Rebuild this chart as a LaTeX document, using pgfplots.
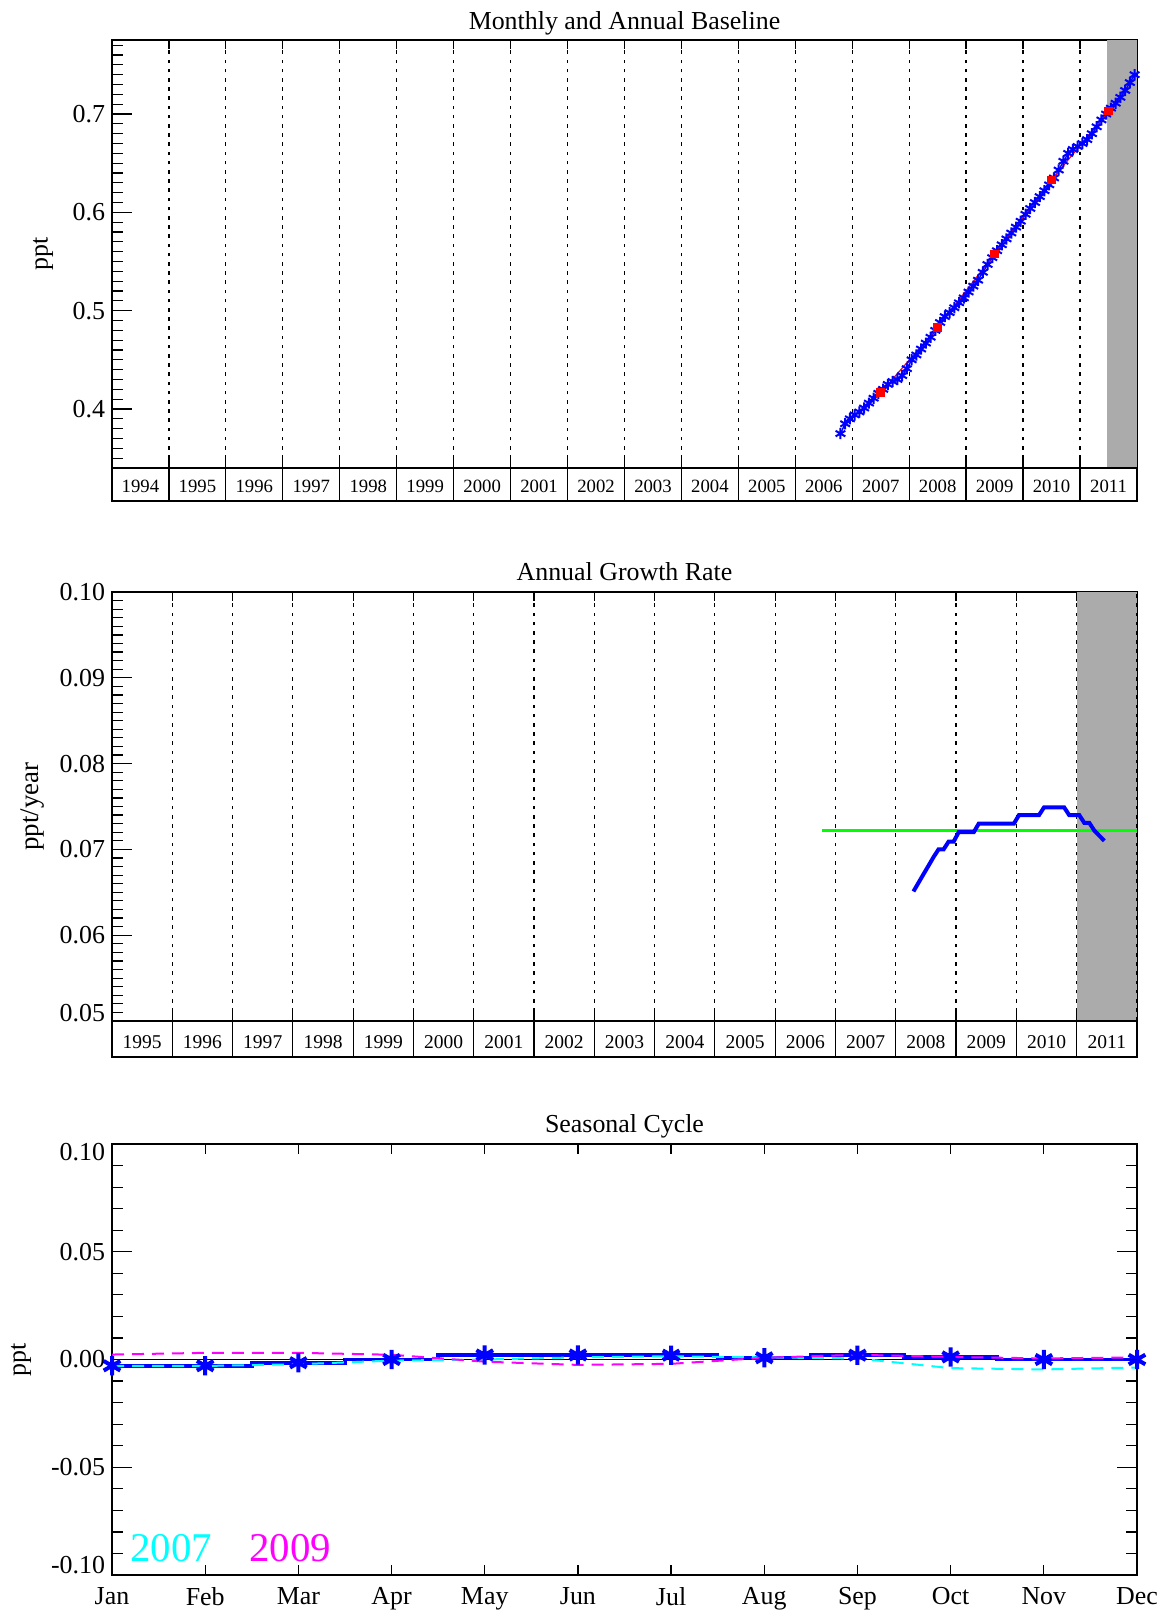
\documentclass[border=0pt]{standalone}
\usepackage{fontspec}
\setmainfont{Liberation Serif}
\usepackage{pgfplots}
\pgfplotsset{compat=1.18}
\definecolor{shade}{RGB}{171,171,171}
\definecolor{pblue}{RGB}{0,0,255}
\definecolor{pgreen}{RGB}{0,255,0}
\definecolor{pcyan}{RGB}{0,255,255}
\definecolor{pmag}{RGB}{255,0,255}
\definecolor{pred}{RGB}{255,0,0}
\newcommand\fs[1]{\fontsize{#1}{#1}\selectfont}
\newcommand\shiftlab[2]{\raisebox{#1}[\height][\depth]{#2}}
\tikzset{gridline/.style={black, line width=0.6bp, dash pattern=on 1.8bp off 2.8bp}}
\pgfplotsset{
  every axis title/.style={at={(0.5,1)}, anchor=base, inner sep=0pt, font=\fs{13}},
  base/.style={scale only axis, width=512.5bp, anchor=north west,
    axis line style={line width=0.75bp, black},
    tick style={black, line width=0.6bp},
    tick label style={font=\fs{13}}},
  yover/.style={base, axis line style={draw=none}, xtick=\empty,
    ylabel style={anchor=center, font=\fs{13}, inner sep=0pt}},
  labrow/.style={scale only axis, width=512.5bp, anchor=north west,
    ymin=0, ymax=1, xticklabels={}, ytick=\empty, major tick length=0pt,
    xmajorgrids, major grid style={black, line width=0.6bp},
    axis line style={line width=0.75bp, black}}
}
\begin{document}
\begin{tikzpicture}
\useasboundingbox (0,0) rectangle (583.5bp,-805.5bp);

% ---------------- Panel 1 ----------------
\begin{axis}[base, at={(56bp,-20bp)}, height=214bp,
  xmin=1994, xmax=2012, ymin=0.34, ymax=0.7753,
  xtick={1994,...,2012}, xticklabels={}, minor x tick num=7,
  major tick length=4.7bp, minor tick length=2.6bp,
  ytick=\empty, xmajorgrids, major grid style={gridline},
  title={Monthly and Annual Baseline}, title style={yshift=5.4bp}]
\addplot[fill=shade, draw=none] coordinates {(2011.48,0.34) (2012,0.34) (2012,0.7753) (2011.48,0.7753)} -- cycle;
\addplot[pblue, line width=0.7bp, mark=asterisk, mark size=2.8bp, mark options={line width=1bp}] table {
x y
2006.792 0.375
2006.875 0.385
2006.958 0.390
2007.042 0.394
2007.125 0.397
2007.208 0.401
2007.292 0.406
2007.375 0.411
2007.458 0.416
2007.542 0.420
2007.625 0.425
2007.708 0.428
2007.792 0.430
2007.875 0.434
2007.958 0.441
2008.042 0.450
2008.125 0.455
2008.208 0.461
2008.292 0.467
2008.375 0.473
2008.458 0.480
2008.542 0.488
2008.625 0.494
2008.708 0.498
2008.792 0.503
2008.875 0.508
2008.958 0.513
2009.042 0.519
2009.125 0.525
2009.208 0.531
2009.292 0.539
2009.375 0.547
2009.458 0.554
2009.542 0.561
2009.625 0.567
2009.708 0.573
2009.792 0.579
2009.875 0.585
2009.958 0.591
2010.042 0.598
2010.125 0.604
2010.208 0.610
2010.292 0.616
2010.375 0.622
2010.458 0.628
2010.542 0.635
2010.625 0.643
2010.708 0.652
2010.792 0.660
2010.875 0.664
2010.958 0.667
2011.042 0.670
2011.125 0.674
2011.208 0.680
2011.292 0.687
2011.375 0.694
2011.458 0.700
2011.542 0.706
2011.625 0.711
2011.708 0.717
2011.792 0.724
2011.875 0.732
2011.958 0.740
};
\addplot[pred, line width=0.6bp, mark=square*, mark size=1.9bp] coordinates {
(2007.5,0.4166) (2008.5,0.483) (2009.5,0.5577) (2010.5,0.633) (2011.5,0.703)};
\end{axis}
\begin{axis}[yover, at={(56bp,-20bp)}, height=214bp,
  xmin=1994, xmax=2012, ymin=0.34, ymax=0.7753,
  ytick={0.4,0.5,0.6,0.7}, yticklabels={0.4,0.5,0.6,0.7},
  minor ytick={0.35,0.36,...,0.775}, ytick pos=left,
  major tick length=10bp, minor tick length=5.5bp,
  ylabel={ppt}, ylabel style={at={(axis description cs:-0.0673,0.5)}}]
\end{axis}
\begin{axis}[labrow, at={(56bp,-234bp)}, height=16.5bp,
  xmin=1994, xmax=2012, xtick={1995,...,2011}]
\pgfplotsinvokeforeach{1994,...,2011}{\node[font=\fs{9.4}, inner sep=0pt] at (axis cs:#1.5,0.43) {#1};}
\end{axis}

% ---------------- Panel 2 ----------------
\begin{axis}[base, at={(56bp,-296bp)}, height=214.5bp,
  xmin=1995, xmax=2012, ymin=0.05, ymax=0.10,
  xtick={1995,...,2012}, xticklabels={}, minor x tick num=7,
  major tick length=4.7bp, minor tick length=2.6bp,
  ytick=\empty, xmajorgrids, major grid style={gridline},
  title={Annual Growth Rate}, title style={yshift=5.7bp}]
\addplot[fill=shade, draw=none] coordinates {(2011,0.05) (2012,0.05) (2012,0.10) (2011,0.10)} -- cycle;
\addplot[gridline] coordinates {(2011,0.05) (2011,0.10)};
\addplot[gridline] coordinates {(2012,0.05) (2012,0.10)};
\addplot[pgreen, line width=1.6bp] coordinates {(2006.78,0.0722) (2012,0.0722)};
\addplot[pblue, line width=2bp] table {
x y
2008.292 0.0651
2008.375 0.0661
2008.458 0.0671
2008.542 0.0681
2008.625 0.0691
2008.708 0.0700
2008.792 0.0700
2008.875 0.0709
2008.958 0.0709
2009.042 0.0720
2009.125 0.0720
2009.208 0.0720
2009.292 0.0720
2009.375 0.0730
2009.458 0.0730
2009.542 0.0730
2009.625 0.0730
2009.708 0.0730
2009.792 0.0730
2009.875 0.0730
2009.958 0.0730
2010.042 0.0740
2010.125 0.0740
2010.208 0.0740
2010.292 0.0740
2010.375 0.0740
2010.458 0.0749
2010.542 0.0749
2010.625 0.0749
2010.708 0.0749
2010.792 0.0749
2010.875 0.0740
2010.958 0.0740
2011.042 0.0740
2011.125 0.0731
2011.208 0.0731
2011.292 0.0722
2011.375 0.0716
2011.458 0.0710
};
\end{axis}
\begin{axis}[yover, at={(56bp,-296bp)}, height=214.5bp,
  xmin=1995, xmax=2012, ymin=0.05, ymax=0.10,
  ytick={0.05,0.06,0.07,0.08,0.09,0.10},
  yticklabels={\shiftlab{4bp}{0.05},0.06,0.07,0.08,0.09,0.10},
  minor ytick={0.051,0.052,...,0.0995}, ytick pos=left,
  major tick length=10bp, minor tick length=5.3bp,
  ylabel={ppt/year}, ylabel style={at={(axis description cs:-0.078,0.5)}, font=\fs{13.5}}]
\end{axis}
\begin{axis}[labrow, at={(56bp,-510.5bp)}, height=18bp,
  xmin=1995, xmax=2012, xtick={1996,...,2011}]
\pgfplotsinvokeforeach{1995,...,2011}{\node[font=\fs{9.8}, inner sep=0pt] at (axis cs:#1.5,0.42) {#1};}
\end{axis}

% ---------------- Panel 3 ----------------
\begin{axis}[base, at={(56bp,-572bp)}, height=215.5bp,
  xmin=0, xmax=11, ymin=-0.1, ymax=0.1,
  xtick={0,...,11}, xticklabels={Jan,Feb,Mar,Apr,May,Jun,Jul,Aug,Sep,Oct,Nov,Dec},
  xticklabel style={yshift=-2.5bp},
  major tick length=5bp, ytick=\empty,
  title={Seasonal Cycle}, title style={yshift=5.7bp}]
\addplot[pblue, line width=1.8bp, const plot mark mid, mark=asterisk, mark size=4.8bp, mark options={solid, line width=2bp}] table {
x y
0 -0.0029
1 -0.0029
2 -0.0015
3 0.0000
4 0.0021
5 0.0021
6 0.0020
7 0.0008
8 0.0020
9 0.0012
10 0.0000
11 0.0000
};
\addplot[black, line width=0.6bp] coordinates {(0,0) (11,0)};
\addplot[pcyan, line width=1bp, dash pattern=on 6bp off 4bp] table {
x y
0 -0.0030
1 -0.0030
2 -0.0022
3 -0.0005
4 0.0000
5 0.0010
6 0.0015
7 0.0010
8 0.0005
9 -0.0040
10 -0.0046
11 -0.0037
};
\addplot[pmag, line width=1bp, dash pattern=on 6bp off 4bp] table {
x y
0 0.0023
1 0.0031
2 0.0031
3 0.0022
4 -0.0010
5 -0.0025
6 -0.0020
7 0.0008
8 0.0022
9 0.0012
10 0.0005
11 0.0010
};
\node[anchor=base west, inner sep=0pt, text=pcyan, font=\fs{20.5}] at (axis cs:0.193,-0.0937) {2007};
\node[anchor=base west, inner sep=0pt, text=pmag, font=\fs{20.5}] at (axis cs:1.471,-0.0937) {2009};
\end{axis}
\begin{axis}[yover, at={(56bp,-572bp)}, height=215.5bp,
  xmin=0, xmax=11, ymin=-0.1, ymax=0.1,
  ytick={-0.1,-0.05,0,0.05,0.1},
  yticklabels={\shiftlab{5bp}{-0.10},-0.05,0.00,0.05,\shiftlab{-4bp}{0.10}},
  minor ytick={-0.09,-0.08,...,0.095}, ytick pos=both,
  major tick length=10bp, minor tick length=5.4bp,
  ylabel={ppt}, ylabel style={at={(axis description cs:-0.0888,0.5)}}]
\end{axis}
\end{tikzpicture}
\end{document}
